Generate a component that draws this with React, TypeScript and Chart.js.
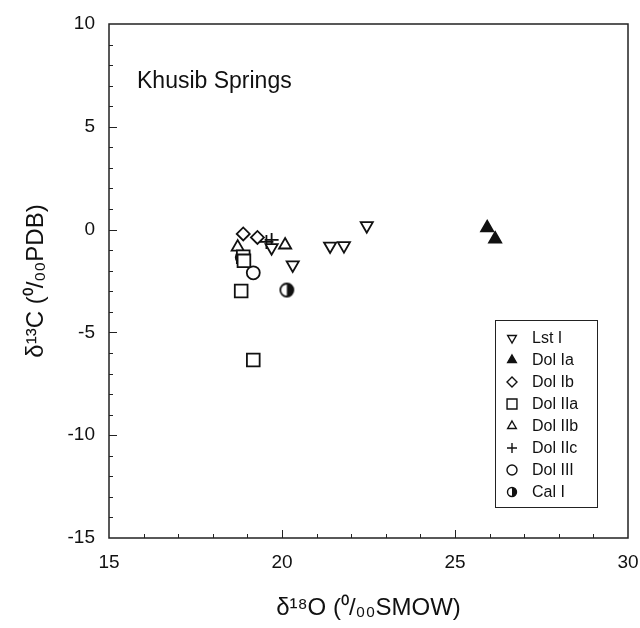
import React, { useEffect, useRef } from 'react';
import { Chart, registerables } from 'chart.js';
import { drawPoint } from 'chart.js/helpers';

Chart.register(...registerables);

// ---------- data ----------
const seriesNames = ['Lst I', 'Dol Ia', 'Dol Ib', 'Dol IIa', 'Dol IIb', 'Dol IIc', 'Dol III', 'Cal I'];

const lstI = [
  { x: 19.70, y: -0.88 },
  { x: 20.31, y: -1.72 },
  { x: 21.39, y: -0.80 },
  { x: 21.79, y: -0.78 },
  { x: 22.45, y: 0.19 },
];
const dolIa = [
  { x: 25.93, y: 0.09 },
  { x: 26.16, y: -0.46 },
];
const dolIb = [
  { x: 18.88, y: -0.21 },
  { x: 19.29, y: -0.38 },
];
const dolIIa = [
  { x: 18.88, y: -1.32 },
  { x: 18.90, y: -1.52 },
  { x: 18.82, y: -2.99 },
  { x: 19.17, y: -6.34 },
];
const dolIIb = [
  { x: 18.72, y: -0.85 },
  { x: 20.09, y: -0.75 },
];
const dolIIc = [
  { x: 19.55, y: -0.60 },
  { x: 19.70, y: -0.50 },
];
const dolIII = [
  { x: 18.85, y: -1.35 },
  { x: 19.17, y: -2.10 },
];
const calI = [
  { x: 20.14, y: -2.94 },
];

const xTickValues = [15, 20, 25, 30];
const yTickValues = [-15, -10, -5, 0, 5, 10];
const xRange = [15, 30];
const yRange = [-15, 10];

const xTitle = 'δ¹⁸O (⁰/₀₀SMOW)';
const yTitle = 'δ¹³C (⁰/₀₀PDB)';
const panelLabel = 'Khusib Springs';

const FONT = '"Liberation Sans", Arial, Helvetica, sans-serif';
const INK = '#111';

function halfCircle(r: number, lw: number) {
  const s = Math.ceil(2 * r + lw * 2 + 2);
  const c = document.createElement('canvas');
  c.width = s;
  c.height = s;
  const ctx = c.getContext('2d')!;
  const cx = s / 2, cy = s / 2;
  ctx.fillStyle = '#fff';
  ctx.beginPath(); ctx.arc(cx, cy, r, 0, Math.PI * 2); ctx.fill();
  ctx.fillStyle = INK;
  ctx.beginPath(); ctx.moveTo(cx, cy); ctx.arc(cx, cy, r, -Math.PI / 2, Math.PI / 2); ctx.closePath(); ctx.fill();
  ctx.strokeStyle = INK; ctx.lineWidth = lw;
  ctx.beginPath(); ctx.arc(cx, cy, r, 0, Math.PI * 2); ctx.stroke();
  return c;
}

const framePlugin = {
  id: 'frame',
  beforeDatasetsDraw(chart: any) {
    const { ctx, chartArea: a, scales } = chart;
    ctx.save();
    ctx.strokeStyle = '#222';
    ctx.lineWidth = 1.5;
    ctx.strokeRect(a.left, a.top, a.right - a.left, a.bottom - a.top);
    ctx.lineWidth = 1;
    ctx.beginPath();
    for (let v = xRange[0] + 1; v < xRange[1]; v++) {
      const px = Math.round(scales.x.getPixelForValue(v)) + 0.5;
      const len = v % 5 === 0 ? 8 : 4;
      ctx.moveTo(px, a.bottom);
      ctx.lineTo(px, a.bottom - len);
    }
    for (let v = yRange[0] + 1; v < yRange[1]; v++) {
      const py = Math.round(scales.y.getPixelForValue(v)) + 0.5;
      const len = v % 5 === 0 ? 8 : 4;
      ctx.moveTo(a.left, py);
      ctx.lineTo(a.left + len, py);
    }
    ctx.stroke();
    ctx.restore();
  },
  afterDraw(chart: any) {
    const { ctx, chartArea: a } = chart;
    ctx.save();
    // panel label
    ctx.fillStyle = INK;
    ctx.font = `23px ${FONT}`;
    ctx.textBaseline = 'alphabetic';
    ctx.textAlign = 'left';
    ctx.fillText(panelLabel, a.left + 28, 88);

    // legend
    const bx = 495, by = 320, bw = 102, bh = 187;
    ctx.fillStyle = '#fff';
    ctx.fillRect(bx, by, bw, bh);
    ctx.strokeStyle = '#222';
    ctx.lineWidth = 1;
    ctx.strokeRect(bx + 0.5, by + 0.5, bw, bh);
    ctx.font = `16px ${FONT}`;
    ctx.textBaseline = 'middle';
    chart.data.datasets.forEach((ds: any, i: number) => {
      const y = by + 18 + i * 22;
      const x = bx + 17;
      ctx.fillStyle = ds.backgroundColor;
      ctx.strokeStyle = ds.borderColor;
      ctx.lineWidth = 1.4;
      const style = ds.legendStyle || ds.pointStyle;
      drawPoint(ctx, {
        pointStyle: style,
        rotation: ds.pointRotation || 0,
        radius: ds.legendRadius,
        borderWidth: 1.4,
      }, x, y);
      ctx.fillStyle = INK;
      ctx.fillText(ds.label, bx + 37, y + 1);
    });
    ctx.restore();
  },
};

export default function App() {
  const ref = useRef<HTMLCanvasElement>(null);
  useEffect(() => {
    const calIcon = halfCircle(6.5, 1.8);
    const calLegend = halfCircle(4.5, 1.4);
    const mk = (label: string, data: any[], style: any, extra: any = {}) => ({
      label,
      data,
      pointStyle: style,
      pointRadius: 7,
      pointBorderWidth: 1.8,
      backgroundColor: '#fff',
      borderColor: INK,
      legendRadius: 5,
      ...extra,
    });
    const datasets = [
      mk(seriesNames[0], lstI, 'triangle', { pointRotation: 180 }),
      mk(seriesNames[1], dolIa, 'triangle', { backgroundColor: INK }),
      mk(seriesNames[2], dolIb, 'rectRot', { pointRadius: 6.5, legendRadius: 5 }),
      mk(seriesNames[3], dolIIa, 'rect', { pointRadius: 9, legendRadius: 7 }),
      mk(seriesNames[4], dolIIb, 'triangle'),
      mk(seriesNames[5], dolIIc, 'cross', { pointRadius: 7, legendRadius: 5 }),
      mk(seriesNames[6], dolIII, 'circle', { pointRadius: 6.5, legendRadius: 5 }),
      mk(seriesNames[7], calI, calIcon, { legendStyle: calLegend }),
    ];
    const chart = new Chart(ref.current!, {
      type: 'scatter',
      data: { datasets: datasets as any },
      plugins: [framePlugin],
      options: {
        animation: false,
        responsive: false,
        layout: { padding: { top: 24, right: 0, left: 0, bottom: 0 } },
        plugins: { legend: { display: false }, tooltip: { enabled: false } },
        scales: {
          x: {
            type: 'linear',
            min: xRange[0],
            max: xRange[1],
            afterBuildTicks: (s: any) => { s.ticks = xTickValues.map((v) => ({ value: v })); },
            afterFit: (s: any) => { s.height = 90; s.paddingLeft = 0; s.paddingRight = 12; },
            grid: { display: false, drawTicks: false },
            border: { display: false },
            ticks: { color: INK, font: { family: FONT, size: 19 }, padding: 13, maxRotation: 0 },
            title: {
              display: true,
              text: xTitle,
              color: INK,
              font: { family: FONT, size: 24 },
              padding: { top: 0, bottom: 5 },
            },
          },
          y: {
            type: 'linear',
            min: yRange[0],
            max: yRange[1],
            afterBuildTicks: (s: any) => { s.ticks = yTickValues.map((v) => ({ value: v })); },
            afterFit: (s: any) => { s.width = 109; s.paddingTop = 0; s.paddingBottom = 0; },
            grid: { display: false, drawTicks: false },
            border: { display: false },
            ticks: { color: INK, font: { family: FONT, size: 19 }, padding: 14 },
            title: {
              display: true,
              text: yTitle,
              color: INK,
              font: { family: FONT, size: 24 },
              padding: { top: 22, bottom: 0 },
            },
          },
        },
      },
    });
    return () => chart.destroy();
  }, []);
  return (
    <div style={{ position: 'absolute', left: 0, top: 0, width: 640, height: 628, background: '#fff' }}>
      <canvas ref={ref} width={640} height={628} style={{ width: 640, height: 628 }} />
    </div>
  );
}
